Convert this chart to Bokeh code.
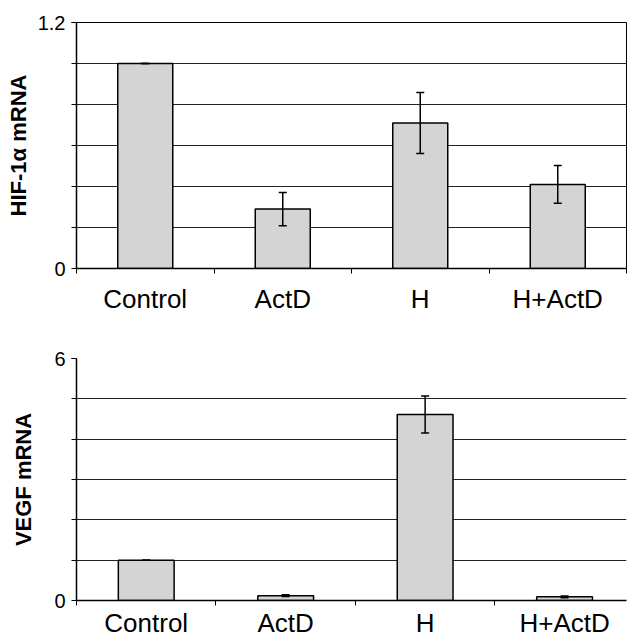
from bokeh.plotting import figure
from bokeh.models import ColumnDataSource, Range1d, FixedTicker, Whisker
from bokeh.layouts import column
from bokeh.embed import file_html
from bokeh.resources import INLINE

categories = ["Control", "ActD", "H", "H+ActD"]
hif_values = [1.0, 0.29, 0.71, 0.41]
hif_errors = [0.0, 0.081, 0.149, 0.092]
vegf_values = [1.0, 0.12, 4.61, 0.09]
vegf_errors = [0.0, 0.02, 0.46, 0.02]
hif_ticks = [0, 1.2]
hif_grid = [0.2, 0.4, 0.6, 0.8, 1.0, 1.2]
vegf_ticks = [0, 6]
vegf_grid = [1, 2, 3, 4, 5, 6]

FONT = "Liberation Sans"
centers = [i + 0.5 for i in range(len(categories))]
bounds = [i for i in range(len(categories) + 1)]


def make_panel(values, errors, ylabel, yticks, grid, xmax, height, mb_top,
               mb_bottom, mb_right, outline, xstandoff, label_standoff):
    ymax = yticks[-1]
    p = figure(width=627, height=height, output_backend="svg", toolbar_location=None,
               x_range=Range1d(0, xmax), y_range=Range1d(0, ymax),
               min_border_left=76, min_border_right=mb_right,
               min_border_top=mb_top, min_border_bottom=mb_bottom)
    p.outline_line_color = "black" if outline else None
    p.outline_line_width = 1
    src = ColumnDataSource(dict(x=centers, top=values,
                                upper=[v + e for v, e in zip(values, errors)],
                                lower=[v - e for v, e in zip(values, errors)]))
    p.vbar(x="x", top="top", bottom=0, width=0.4, source=src,
           fill_color="#d4d4d4", line_color="black", line_width=1.5)
    w = Whisker(base="x", upper="upper", lower="lower", source=src,
                line_color="black", line_width=1.5, level="overlay")
    w.upper_head.size = 8
    w.lower_head.size = 8
    w.upper_head.line_width = 1.5
    w.lower_head.line_width = 1.5
    p.add_layout(w)

    p.xgrid.visible = False
    p.ygrid.ticker = FixedTicker(ticks=grid)
    p.ygrid.grid_line_color = "#222222"
    p.ygrid.grid_line_width = 1

    xa = p.xaxis[0]
    xa.ticker = FixedTicker(ticks=centers, minor_ticks=bounds)
    xa.major_label_overrides = {c: n for c, n in zip(centers, categories)}
    xa.major_tick_line_color = None
    xa.minor_tick_out = 5
    xa.minor_tick_in = 0
    xa.minor_tick_line_color = "black"
    xa.axis_line_color = "black"
    xa.axis_line_width = 1.5
    xa.major_label_text_font = FONT
    xa.major_label_text_font_size = "26px"
    xa.major_label_text_color = "black"
    xa.major_label_standoff = xstandoff

    ya = p.yaxis[0]
    ya.ticker = FixedTicker(ticks=yticks, minor_ticks=grid)
    ya.major_tick_out = 5
    ya.major_tick_in = 0
    ya.minor_tick_out = 5
    ya.minor_tick_in = 0
    ya.minor_tick_line_color = "black"
    ya.major_tick_line_color = "black"
    ya.axis_line_color = "black"
    ya.axis_line_width = 1.5
    ya.major_label_text_font = FONT
    ya.major_label_text_font_size = "20px"
    ya.major_label_text_color = "black"
    ya.major_label_standoff = 6
    ya.axis_label = ylabel
    ya.axis_label_text_font = FONT
    ya.axis_label_text_font_size = "22px"
    ya.axis_label_text_font_style = "bold"
    ya.axis_label_text_color = "black"
    ya.axis_label_standoff = label_standoff
    return p


p1 = make_panel(hif_values, hif_errors, "HIF-1α mRNA", hif_ticks, hif_grid,
                4, 318, 22, 50, 1, True, 9, 4)
p2 = make_panel(vegf_values, vegf_errors, "VEGF mRNA", vegf_ticks, vegf_grid,
                3.944, 322, 40, 38, 0, False, 1, 15)

p = column(p1, p2, spacing=0)
open("out.html", "w").write(file_html(p, INLINE))
